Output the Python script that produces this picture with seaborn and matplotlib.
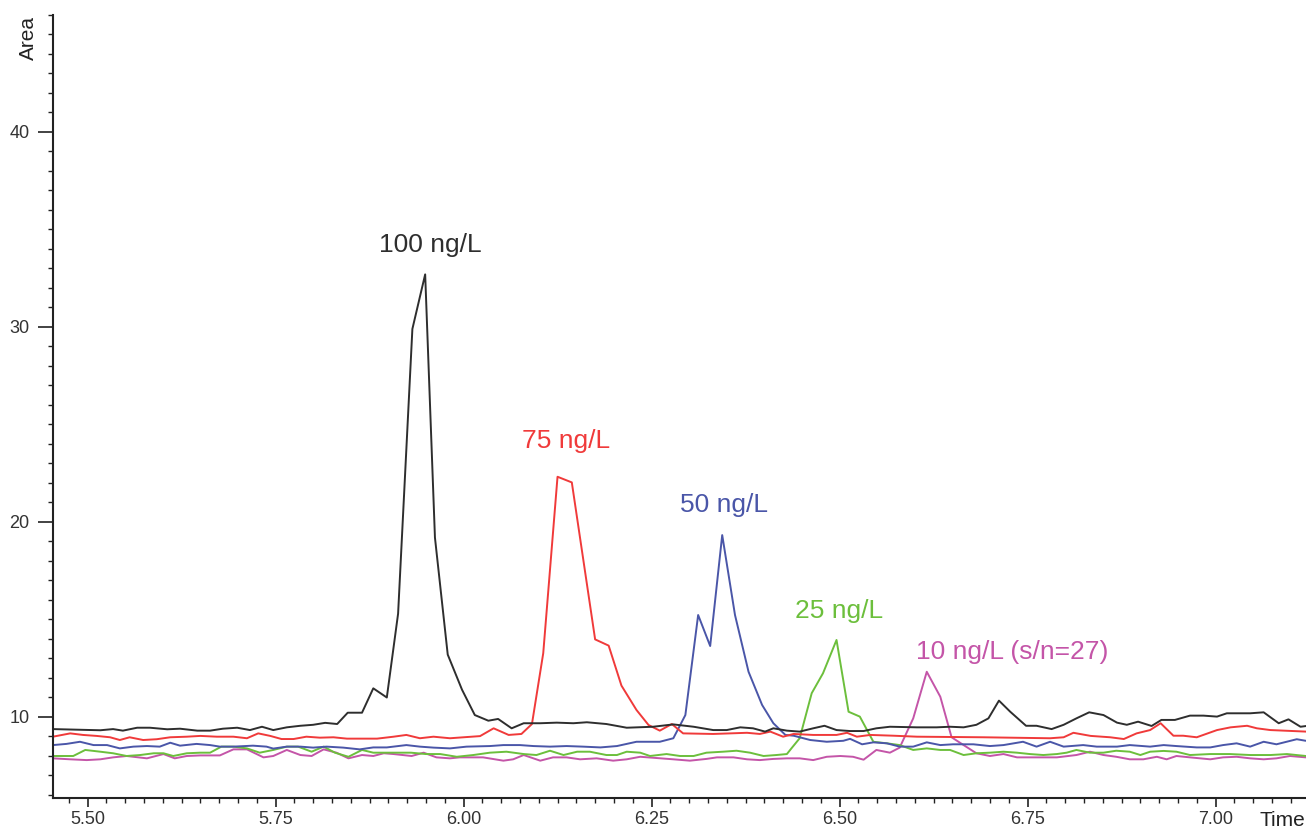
import pandas as pd
import matplotlib.pyplot as plt
import seaborn as sns
from matplotlib.ticker import MultipleLocator, FormatStrFormatter

# (time [min], area) vertices
trace_100 = [(5.454, 9.38), (5.517, 9.32), (5.534, 9.38), (5.547, 9.30), (5.566, 9.45), (5.583, 9.45),
             (5.606, 9.37), (5.623, 9.40), (5.646, 9.30), (5.663, 9.30), (5.680, 9.40), (5.699, 9.45),
             (5.716, 9.33), (5.732, 9.50), (5.747, 9.33), (5.765, 9.47), (5.783, 9.55), (5.800, 9.60),
             (5.816, 9.70), (5.832, 9.64), (5.846, 10.22), (5.865, 10.22), (5.880, 11.47), (5.898, 11.0),
             (5.913, 15.3), (5.932, 29.9), (5.949, 32.7), (5.962, 19.2), (5.979, 13.2), (5.998, 11.4),
             (6.015, 10.1), (6.033, 9.81), (6.046, 9.90), (6.064, 9.42), (6.080, 9.68), (6.102, 9.68),
             (6.124, 9.71), (6.146, 9.68), (6.164, 9.73), (6.190, 9.64), (6.217, 9.45), (6.252, 9.50),
             (6.279, 9.62), (6.306, 9.50), (6.332, 9.33), (6.350, 9.33), (6.368, 9.47), (6.385, 9.42),
             (6.401, 9.25), (6.412, 9.42), (6.430, 9.30), (6.447, 9.25), (6.465, 9.42), (6.480, 9.55),
             (6.496, 9.33), (6.514, 9.28), (6.532, 9.28), (6.549, 9.42), (6.567, 9.50), (6.603, 9.47),
             (6.629, 9.47), (6.647, 9.50), (6.665, 9.47), (6.682, 9.60), (6.698, 9.93), (6.712, 10.84),
             (6.727, 10.27), (6.748, 9.55), (6.762, 9.55), (6.782, 9.38), (6.798, 9.60), (6.815, 9.93),
             (6.832, 10.24), (6.851, 10.10), (6.869, 9.71), (6.882, 9.60), (6.897, 9.76), (6.915, 9.54),
             (6.928, 9.85), (6.946, 9.85), (6.966, 10.07), (6.984, 10.07), (7.002, 10.02), (7.015, 10.19),
             (7.046, 10.19), (7.064, 10.24), (7.084, 9.68), (7.097, 9.88), (7.113, 9.50), (7.121, 9.54)]

trace_75 = [(5.454, 8.99), (5.477, 9.16), (5.494, 9.08), (5.512, 9.03), (5.530, 8.96), (5.543, 8.82),
            (5.556, 8.96), (5.574, 8.82), (5.592, 8.86), (5.610, 8.96), (5.632, 8.99), (5.650, 9.03),
            (5.672, 8.99), (5.694, 8.99), (5.712, 8.91), (5.727, 9.16), (5.743, 9.03), (5.758, 8.87),
            (5.774, 8.87), (5.791, 8.99), (5.809, 8.94), (5.827, 8.96), (5.845, 8.89), (5.885, 8.89),
            (5.907, 8.99), (5.924, 9.08), (5.942, 8.91), (5.960, 8.99), (5.982, 8.91), (6.000, 8.96),
            (6.022, 9.02), (6.040, 9.42), (6.060, 9.08), (6.077, 9.13), (6.091, 9.64), (6.106, 13.27),
            (6.125, 22.32), (6.144, 22.03), (6.175, 13.98), (6.193, 13.66), (6.210, 11.61), (6.230, 10.36),
            (6.246, 9.59), (6.261, 9.30), (6.277, 9.64), (6.292, 9.16), (6.332, 9.13), (6.377, 9.19),
            (6.394, 9.13), (6.408, 9.25), (6.425, 8.99), (6.439, 9.13), (6.465, 9.08), (6.496, 9.08),
            (6.510, 9.19), (6.523, 8.99), (6.541, 9.08), (6.572, 9.04), (6.603, 8.99), (6.691, 8.96),
            (6.780, 8.91), (6.798, 8.96), (6.811, 9.19), (6.834, 9.03), (6.860, 8.96), (6.878, 8.87),
            (6.895, 9.16), (6.913, 9.33), (6.927, 9.68), (6.944, 9.04), (6.957, 9.04), (6.975, 8.96),
            (7.002, 9.33), (7.020, 9.47), (7.042, 9.55), (7.055, 9.42), (7.073, 9.33), (7.121, 9.25)]

trace_50 = [(5.454, 8.56), (5.472, 8.62), (5.490, 8.73), (5.508, 8.56), (5.526, 8.56), (5.543, 8.39),
            (5.561, 8.48), (5.579, 8.51), (5.596, 8.48), (5.610, 8.68), (5.623, 8.53), (5.645, 8.62),
            (5.663, 8.56), (5.676, 8.48), (5.694, 8.48), (5.720, 8.53), (5.738, 8.48), (5.747, 8.38),
            (5.765, 8.48), (5.783, 8.48), (5.800, 8.43), (5.818, 8.48), (5.840, 8.43), (5.862, 8.34),
            (5.880, 8.44), (5.898, 8.44), (5.924, 8.56), (5.942, 8.48), (5.960, 8.43), (5.982, 8.39),
            (6.004, 8.48), (6.035, 8.51), (6.053, 8.56), (6.075, 8.56), (6.093, 8.51), (6.115, 8.48),
            (6.137, 8.51), (6.159, 8.48), (6.182, 8.44), (6.204, 8.51), (6.230, 8.73), (6.261, 8.73),
            (6.279, 8.91), (6.295, 10.1), (6.312, 15.23), (6.328, 13.64), (6.344, 19.33), (6.361, 15.23),
            (6.379, 12.32), (6.397, 10.62), (6.412, 9.68), (6.428, 9.08), (6.439, 9.04), (6.461, 8.82),
            (6.483, 8.73), (6.505, 8.78), (6.514, 8.88), (6.530, 8.60), (6.545, 8.70), (6.563, 8.65),
            (6.580, 8.48), (6.598, 8.48), (6.616, 8.70), (6.634, 8.56), (6.651, 8.60), (6.678, 8.60),
            (6.700, 8.51), (6.718, 8.56), (6.744, 8.73), (6.762, 8.48), (6.780, 8.73), (6.798, 8.48),
            (6.824, 8.56), (6.842, 8.48), (6.869, 8.48), (6.886, 8.56), (6.913, 8.48), (6.931, 8.56),
            (6.948, 8.51), (6.975, 8.44), (6.993, 8.44), (7.010, 8.56), (7.028, 8.65), (7.046, 8.48),
            (7.064, 8.73), (7.081, 8.60), (7.108, 8.86), (7.120, 8.78)]

trace_25 = [(5.454, 8.00), (5.481, 8.00), (5.497, 8.31), (5.517, 8.22), (5.534, 8.14), (5.552, 8.00),
            (5.570, 8.05), (5.588, 8.14), (5.601, 8.14), (5.614, 8.00), (5.632, 8.14), (5.650, 8.17),
            (5.663, 8.17), (5.678, 8.48), (5.694, 8.48), (5.712, 8.39), (5.729, 8.17), (5.747, 8.31),
            (5.765, 8.48), (5.780, 8.48), (5.798, 8.22), (5.814, 8.48), (5.829, 8.17), (5.847, 7.96),
            (5.865, 8.31), (5.880, 8.17), (5.905, 8.17), (5.930, 8.17), (5.950, 8.10), (5.969, 8.10),
            (5.991, 7.96), (6.013, 8.05), (6.035, 8.17), (6.057, 8.22), (6.080, 8.10), (6.097, 8.05),
            (6.115, 8.27), (6.133, 8.05), (6.151, 8.22), (6.168, 8.22), (6.190, 8.05), (6.204, 8.05),
            (6.217, 8.22), (6.235, 8.17), (6.248, 8.00), (6.270, 8.10), (6.288, 8.00), (6.306, 8.00),
            (6.323, 8.17), (6.345, 8.22), (6.363, 8.27), (6.381, 8.17), (6.399, 8.00), (6.416, 8.05),
            (6.430, 8.10), (6.436, 8.39), (6.447, 8.91), (6.463, 11.22), (6.478, 12.24), (6.496, 13.95),
            (6.512, 10.27), (6.527, 10.02), (6.545, 8.73), (6.563, 8.65), (6.580, 8.56), (6.598, 8.31),
            (6.616, 8.39), (6.634, 8.31), (6.647, 8.31), (6.665, 8.05), (6.682, 8.14), (6.700, 8.17),
            (6.718, 8.22), (6.736, 8.17), (6.753, 8.10), (6.771, 8.05), (6.789, 8.10), (6.802, 8.17),
            (6.815, 8.31), (6.833, 8.17), (6.851, 8.17), (6.868, 8.27), (6.886, 8.22), (6.900, 8.05),
            (6.913, 8.22), (6.931, 8.26), (6.948, 8.22), (6.966, 8.05), (6.993, 8.10), (7.019, 8.10),
            (7.046, 8.05), (7.073, 8.05), (7.095, 8.10), (7.120, 8.00)]

trace_10 = [(5.454, 7.88), (5.477, 7.83), (5.499, 7.79), (5.517, 7.83), (5.534, 7.93), (5.552, 8.00),
            (5.579, 7.88), (5.601, 8.10), (5.616, 7.88), (5.632, 8.00), (5.650, 8.03), (5.676, 8.03),
            (5.694, 8.34), (5.712, 8.34), (5.734, 7.93), (5.747, 8.00), (5.765, 8.31), (5.783, 8.05),
            (5.798, 8.00), (5.814, 8.34), (5.831, 8.17), (5.847, 7.88), (5.865, 8.05), (5.880, 8.00),
            (5.894, 8.14), (5.907, 8.10), (5.931, 8.00), (5.947, 8.17), (5.964, 7.93), (5.982, 7.88),
            (5.995, 7.93), (6.026, 7.93), (6.053, 7.76), (6.066, 7.83), (6.080, 8.05), (6.102, 7.76),
            (6.119, 7.93), (6.137, 7.93), (6.155, 7.83), (6.177, 7.88), (6.199, 7.76), (6.217, 7.83),
            (6.235, 7.96), (6.252, 7.91), (6.279, 7.83), (6.301, 7.76), (6.323, 7.85), (6.337, 7.93),
            (6.359, 7.93), (6.377, 7.83), (6.394, 7.79), (6.412, 7.85), (6.430, 7.88), (6.447, 7.88),
            (6.465, 7.79), (6.483, 7.96), (6.501, 8.00), (6.518, 7.96), (6.532, 7.81), (6.549, 8.31),
            (6.567, 8.17), (6.580, 8.43), (6.598, 9.93), (6.616, 12.32), (6.634, 11.04), (6.649, 8.96),
            (6.665, 8.56), (6.682, 8.14), (6.700, 8.00), (6.718, 8.10), (6.736, 7.93), (6.762, 7.93),
            (6.789, 7.93), (6.815, 8.05), (6.833, 8.22), (6.851, 8.05), (6.868, 7.96), (6.886, 7.83),
            (6.904, 7.83), (6.922, 7.96), (6.935, 7.83), (6.948, 8.00), (6.966, 7.93), (6.993, 7.83),
            (7.010, 7.93), (7.028, 7.96), (7.046, 7.88), (7.064, 7.83), (7.081, 7.88), (7.099, 8.00),
            (7.120, 7.93)]

labels = ["10 ng/L (s/n=27)", "25 ng/L", "50 ng/L", "75 ng/L", "100 ng/L"]
traces = [trace_10, trace_25, trace_50, trace_75, trace_100]
colors = ["#c455a8", "#6cbf3c", "#4a56a8", "#f03a3a", "#2e2e2e"]
# where each peak label sits (time, area)
label_pos = [(6.729, 13.33), (6.499, 15.44), (6.346, 20.87), (6.136, 24.15), (5.956, 34.2)]

rows = []
for lab, tr in zip(labels, traces):
    for t, a in tr:
        rows.append({"Time": t, "Area": a, "conc": lab})
df = pd.DataFrame(rows)

sns.set_theme(style="ticks")
plt.rcParams['font.family'] = ['Liberation Sans', 'DejaVu Sans']

fig = plt.figure(figsize=(13.06, 8.34), dpi=100)
ax = fig.add_axes([53 / 1306, 36 / 834, 1 - 53 / 1306, (798 - 15) / 834])

sns.lineplot(data=df, x="Time", y="Area", hue="conc", hue_order=labels,
             palette=dict(zip(labels, colors)), estimator=None, sort=False,
             linewidth=1.4, legend=False, ax=ax)

for lab, col, (tx, ty) in zip(labels, colors, label_pos):
    ax.text(tx, ty, lab, color=col, fontsize=19, ha="center", va="center")

ax.set_xlim(5.4541, 7.1203)
ax.set_ylim(5.846, 46.0)
ax.set_xlabel("")
ax.set_ylabel("")

ax.set_xticks([5.5, 5.75, 6.0, 6.25, 6.5, 6.75, 7.0])
ax.xaxis.set_major_formatter(FormatStrFormatter("%.2f"))
ax.xaxis.set_minor_locator(MultipleLocator(0.025))
ax.set_yticks([10, 20, 30, 40])
ax.yaxis.set_minor_locator(MultipleLocator(1))

sns.despine(ax=ax)
for s in ["left", "bottom"]:
    ax.spines[s].set_linewidth(1.5)
    ax.spines[s].set_color("#222222")

ax.tick_params(axis="y", which="major", length=10.8, width=1.2, color="#222222",
               labelsize=13, labelcolor="#333333", pad=6)
ax.tick_params(axis="y", which="minor", length=3.6, width=1.0, color="#222222")
ax.tick_params(axis="x", which="major", length=6.5, width=1.2, color="#222222",
               labelsize=13, labelcolor="#333333", pad=3)
ax.tick_params(axis="x", which="minor", length=3.6, width=1.0, color="#222222")

fig.text(28 / 1306, 1 - 38 / 834, "Area", rotation=90, ha="center", va="center",
         fontsize=15, color="#222222")
fig.text(1305 / 1306, (834 - 820) / 834, "Time", ha="right", va="center",
         fontsize=15, color="#222222")

fig.savefig("out.png", dpi=100)
